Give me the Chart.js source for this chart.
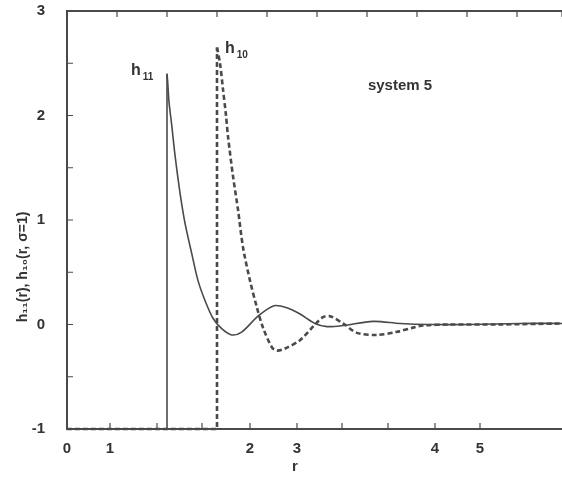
<!DOCTYPE html>
<html>
<head>
<meta charset="utf-8">
<script src="https://cdn.jsdelivr.net/npm/chart.js@4.4.1/dist/chart.umd.min.js"></script>
<style>
  html, body { margin: 0; padding: 0; background: #fff; }
  #wrap { width: 562px; height: 478px; }
</style>
</head>
<body>
<div id="wrap"><canvas id="myChart" width="562" height="478"></canvas></div>
<script>
// values, r in units of sigma
// r < contact: h = -1, then the jump at contact
const h11CoreR = [0, 1.0, 1.0];
const h11CoreV = [-1, -1, 2.40];
const h11R = [1.0, 1.007, 1.02, 1.047, 1.08, 1.13, 1.18, 1.247, 1.31, 1.38, 1.46, 1.547, 1.647, 1.75, 1.91, 2.07, 2.20, 2.33, 2.48, 2.60, 2.76, 3.06, 3.33, 3.63, 4.03, 4.53, 4.95];
const h11V = [2.40, 2.32, 2.13, 1.91, 1.62, 1.26, 0.97, 0.68, 0.42, 0.23, 0.06, -0.04, -0.10, -0.07, 0.08, 0.18, 0.16, 0.10, 0.01, -0.02, -0.01, 0.03, 0.01, 0.0, 0.0, 0.01, 0.01];

const h10CoreR = [0, 1.5, 1.5];
const h10CoreV = [-1, -1, 2.65];
const h10R = [1.5, 1.53, 1.56, 1.59, 1.61, 1.66, 1.71, 1.76, 1.83, 1.90, 1.96, 2.05, 2.10, 2.18, 2.33, 2.48, 2.56, 2.63, 2.76, 2.90, 3.10, 3.30, 3.46, 3.56, 3.83, 4.30, 4.95];
const h10V = [2.65, 2.50, 2.25, 2.00, 1.80, 1.42, 1.10, 0.74, 0.42, 0.16, -0.03, -0.22, -0.25, -0.23, -0.15, 0.0, 0.07, 0.08, 0.01, -0.08, -0.10, -0.07, -0.03, -0.01, 0.0, 0.0, 0.01];

// bottom axis as printed (scan has odd label spacing)
const xTickValues = [0, 0.43, 0.90, 1.35, 1.83, 2.30, 2.75, 3.21, 3.68, 4.13];
const xTickLabels = ['0', '1', '', '', '2', '3', '', '', '4', '5'];

const ink = '#4a4a4a';
const textInk = '#333';
const fontFamily = "'Liberation Sans', Arial, sans-serif";

function toPoints(xs, ys) {
    return xs.map((x, i) => ({ x: x, y: ys[i] }));
}

// ticks point into the plot, like the original
const inwardTicks = {
    id: 'inwardTicks',
    afterDraw(chart) {
        const ctx = chart.ctx;
        const a = chart.chartArea;
        const len = 6;
        ctx.save();
        ctx.strokeStyle = ink;
        ctx.lineWidth = 1.2;
        ctx.beginPath();
        chart.scales.x.ticks.forEach(t => {
            const p = chart.scales.x.getPixelForValue(t.value);
            ctx.moveTo(p, a.bottom);
            ctx.lineTo(p, a.bottom - len);
        });
        chart.scales.x2.ticks.forEach(t => {
            const p = chart.scales.x2.getPixelForValue(t.value);
            ctx.moveTo(p, a.top);
            ctx.lineTo(p, a.top + len);
        });
        chart.scales.y.ticks.forEach(t => {
            const p = chart.scales.y.getPixelForValue(t.value);
            ctx.moveTo(a.left, p);
            ctx.lineTo(a.left + len, p);
        });
        ctx.stroke();
        ctx.restore();
    }
};

// curve names, panel label and axis titles
const labels = {
    id: 'labels',
    afterDraw(chart) {
        const ctx = chart.ctx;
        const xs = chart.scales.x;
        const ys = chart.scales.y;
        ctx.save();
        ctx.fillStyle = textInk;
        ctx.textBaseline = 'alphabetic';

        function hLabel(r, v, sub) {
            const px = xs.getPixelForValue(r);
            const py = ys.getPixelForValue(v);
            ctx.font = 'bold 16px ' + fontFamily;
            ctx.textAlign = 'left';
            ctx.fillText('h', px, py);
            const w = ctx.measureText('h').width;
            ctx.font = 'bold 10px ' + fontFamily;
            ctx.fillText(sub, px + w + 2, py + 5);
        }
        hLabel(0.64, 2.39, '11');
        hLabel(1.58, 2.6, '10');

        ctx.font = 'bold 15px ' + fontFamily;
        ctx.textAlign = 'center';
        ctx.fillText('system 5', xs.getPixelForValue(3.33), ys.getPixelForValue(2.24));

        ctx.font = 'bold 15px ' + fontFamily;
        ctx.fillText('r', 295, 471);

        ctx.translate(27, 267);
        ctx.rotate(-Math.PI / 2);
        ctx.font = 'bold 14px ' + fontFamily;
        ctx.textAlign = 'center';
        ctx.fillText('h\u2081\u2081(r), h\u2081\u2080(r, \u03c3=1)', 0, 0);
        ctx.restore();
    }
};

const solid = { borderColor: ink, borderWidth: 1.6, pointRadius: 0, clip: 4 };
const dashed = { borderColor: ink, borderWidth: 2.6, borderDash: [5, 3], pointRadius: 0, clip: 4 };

const ctx = document.getElementById('myChart');
const chart = new Chart(ctx, {
    type: 'line',
    data: {
        datasets: [
            Object.assign({ label: 'h11', data: toPoints(h11R, h11V), tension: 0.3 }, solid),
            Object.assign({ label: 'h11 core', data: toPoints(h11CoreR, h11CoreV), tension: 0 }, solid),
            Object.assign({ label: 'h10', data: toPoints(h10R, h10V), tension: 0.3 }, dashed),
            Object.assign({ label: 'h10 core', data: toPoints(h10CoreR, h10CoreV), tension: 0 }, dashed)
        ]
    },
    options: {
        responsive: false,
        animation: false,
        layout: { padding: 0 },
        plugins: {
            legend: { display: false },
            tooltip: { enabled: false }
        },
        scales: {
            x: {
                type: 'linear',
                position: 'bottom',
                min: 0,
                max: 4.95,
                grid: { display: false },
                border: { display: true, color: ink, width: 2 },
                afterBuildTicks: s => { s.ticks = xTickValues.map(v => ({ value: v })); },
                afterFit: s => { s.height = 49; s.paddingLeft = 0; s.paddingRight = 0; },
                ticks: {
                    autoSkip: false,
                    maxRotation: 0,
                    padding: 3,
                    color: textInk,
                    font: { family: fontFamily, size: 15, weight: 'bold' },
                    callback: (v, i) => xTickLabels[i]
                }
            },
            x2: {
                type: 'linear',
                position: 'top',
                min: 0,
                max: 4.95,
                grid: { display: false },
                border: { display: true, color: ink, width: 2 },
                afterFit: s => { s.height = 11; s.paddingLeft = 0; s.paddingRight = 0; },
                ticks: { display: false, stepSize: 0.5 }
            },
            y: {
                min: -1,
                max: 3,
                grid: { display: false },
                border: { display: true, color: ink, width: 2 },
                afterFit: s => { s.width = 67; s.paddingTop = 0; s.paddingBottom = 0; },
                ticks: {
                    stepSize: 0.5,
                    padding: 14,
                    color: textInk,
                    font: { family: fontFamily, size: 15, weight: 'bold' },
                    callback: v => Number.isInteger(v) ? String(v) : ''
                }
            }
        }
    },
    plugins: [inwardTicks, labels]
});
</script>
</body>
</html>
